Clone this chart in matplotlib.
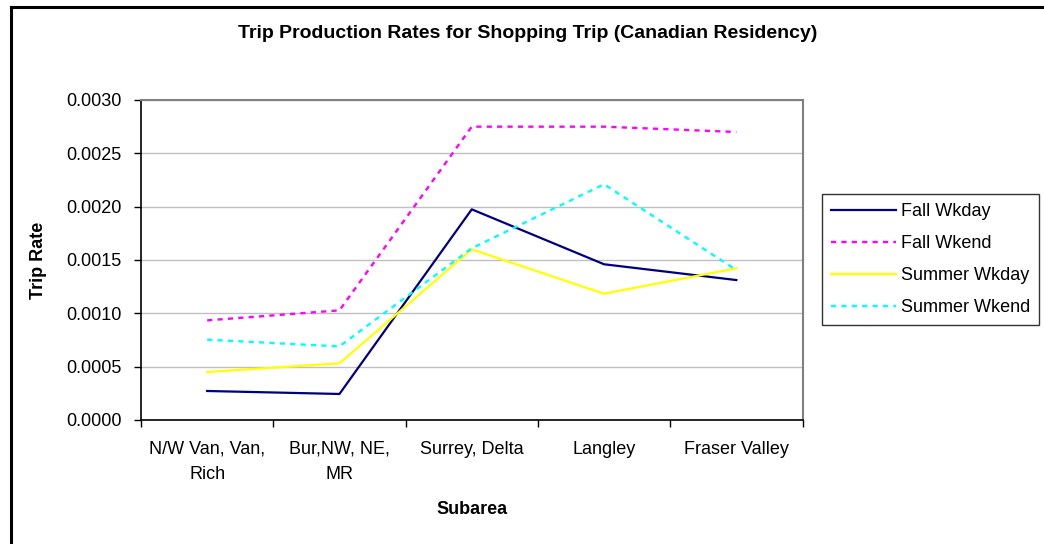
import matplotlib
matplotlib.use("Agg")
import matplotlib.pyplot as plt
from matplotlib.lines import Line2D

plt.rcParams['font.family'] = ['Liberation Sans', 'DejaVu Sans']

subareas = ["N/W Van, Van,\nRich", "Bur,NW, NE,\nMR", "Surrey, Delta", "Langley", "Fraser Valley"]
fall_wkday = [0.000272, 0.000244, 0.001975, 0.001460, 0.001312]
fall_wkend = [0.000934, 0.001028, 0.002750, 0.002750, 0.002700]
summer_wkday = [0.000450, 0.000531, 0.001600, 0.001184, 0.001422]
summer_wkend = [0.000753, 0.000690, 0.001610, 0.002210, 0.001406]
y_ticks = [0.0, 0.0005, 0.0010, 0.0015, 0.0020, 0.0025, 0.0030]

W, H = 1044, 544
fig = plt.figure(figsize=(W / 100, H / 100), dpi=100)
ax = fig.add_axes([141 / W, 1 - 420 / H, (802.5 - 141) / W, 320 / H])

x = list(range(len(subareas)))
dot = (0, (2.2, 2.2))
ax.plot(x, fall_wkday, color="#000080", lw=1.6, label="Fall Wkday")
ax.plot(x, fall_wkend, color="#FF00FF", lw=1.7, ls=dot, label="Fall Wkend")
ax.plot(x, summer_wkday, color="#FFFF00", lw=1.6, label="Summer Wkday")
ax.plot(x, summer_wkend, color="#00FFFF", lw=1.7, ls=dot, label="Summer Wkend")

ax.set_xlim(-0.5, len(subareas) - 0.5)
ax.set_ylim(0, 0.003)
ax.set_yticks(y_ticks)
ax.set_yticklabels([f"{v:.4f}" for v in y_ticks], fontsize=13)
ax.yaxis.grid(True, color="#c0c0c0", lw=1)
ax.set_axisbelow(True)

ax.set_xticks(x)
ax.set_xticklabels(subareas, fontsize=13, linespacing=1.6)
ax.tick_params(axis="x", length=0, pad=15)
ax.set_xticks([i - 0.5 for i in range(len(subareas) + 1)], minor=True)
ax.tick_params(axis="x", which="minor", length=5, width=1, color="black")
ax.tick_params(axis="y", length=5, width=1, color="black", pad=9)

for side in ("top", "right"):
    ax.spines[side].set_color("#808080")
    ax.spines[side].set_linewidth(1.5)
for side in ("left", "bottom"):
    ax.spines[side].set_color("black")
    ax.spines[side].set_linewidth(1.2)

ax.set_ylabel("Trip Rate", fontsize=13, fontweight="bold", labelpad=14)
ax.set_xlabel("Subarea", fontsize=13, fontweight="bold", labelpad=13)

fig.text(528 / W, 1 - 33 / H, "Trip Production Rates for Shopping Trip (Canadian Residency)",
         ha="center", va="center", fontsize=14, fontweight="bold")

leg = fig.legend(loc="upper left", bbox_to_anchor=(821.7 / W, 1 - 194 / H),
                 fontsize=13, frameon=True, fancybox=False, edgecolor="black",
                 handlelength=3.6, handletextpad=0.3, labelspacing=0.83,
                 borderpad=0.5, borderaxespad=0)
leg.get_frame().set_linewidth(1.0)

# outer chart frame
fig.add_artist(Line2D([11 / W, 11 / W], [0, 1 - 7 / H], color="black", lw=2.2,
                      transform=fig.transFigure))
fig.add_artist(Line2D([11 / W, 1], [1 - 7 / H, 1 - 7 / H], color="black", lw=2.2,
                      transform=fig.transFigure))

fig.savefig("out.png", dpi=100)
